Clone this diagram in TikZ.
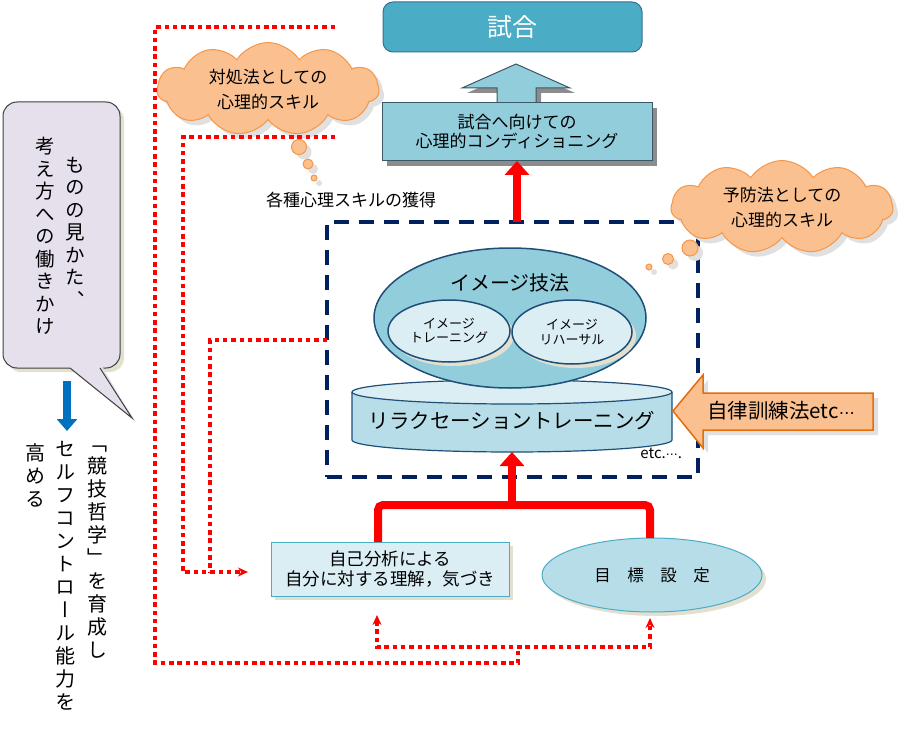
\documentclass[tikz,border=0pt]{standalone}
\usepackage{fontspec}
\setmainfont{Noto Sans CJK JP}
\newfontfamily\vjp[RawFeature=+vert]{Noto Sans CJK JP}
\newfontfamily\dvs{DejaVu Sans}
\usetikzlibrary{shapes.symbols,shapes.geometric,arrows.meta,shadows,calc}
\definecolor{shiaiC}{HTML}{4BACC6}
\definecolor{shiaiB}{HTML}{3A6E95}
\definecolor{condC}{HTML}{92CDDC}
\definecolor{condB}{HTML}{3B5868}
\definecolor{paleC}{HTML}{DAEEF3}
\definecolor{midC}{HTML}{B7DEE8}
\definecolor{darkB}{HTML}{1F4E79}
\definecolor{navyC}{HTML}{002060}
\definecolor{orF}{HTML}{FAC090}
\definecolor{orB}{HTML}{F79646}
\definecolor{orB2}{HTML}{E46C0A}
\definecolor{lavC}{HTML}{E5E0EC}
\definecolor{beigeC}{HTML}{E3E0CF}
\definecolor{blueA}{HTML}{0070C0}
\begin{document}
\begin{tikzpicture}[x=1pt,y=-1pt,
  every node/.style={inner sep=0pt, outer sep=0pt},
  grayshadow/.style={drop shadow={fill=black!45, opacity=1, shadow xshift=5pt, shadow yshift=-5pt}},
  beigeshadow/.style={drop shadow={fill=beigeC, opacity=1, shadow xshift=4pt, shadow yshift=-4pt}},
  cloudshadow/.style={drop shadow={fill=black!12, opacity=1, shadow xshift=5pt, shadow yshift=-5pt}},
  shiaibox/.style={rectangle, rounded corners=10pt, fill=shiaiC, draw=shiaiB, line width=1pt,
     minimum width=259pt, minimum height=50pt, text=white, font=\fontsize{25}{28}\selectfont},
  condbox/.style={rectangle, fill=condC, draw=condB, line width=1pt, grayshadow,
     minimum width=270pt, minimum height=58pt, align=center, font=\fontsize{17}{19}\selectfont},
  cloudnode/.style={cloud, cloud puffs=11, cloud puff arc=115, aspect=2.4, fill=orF, draw=orB,
     line width=1pt, cloudshadow, minimum width=222pt, minimum height=92pt, align=center,
     font=\fontsize{17}{25}\selectfont},
  bubble/.style={circle, fill=orF, draw=orB, line width=1pt, cloudshadow},
  dbox/.style={rectangle, draw=navyC, line width=3.5pt, dash pattern=on 15pt off 10pt,
     minimum width=371pt, minimum height=255pt},
  bigell/.style={ellipse, fill=condC, draw=darkB, line width=1.5pt, minimum width=272pt, minimum height=140pt},
  inell/.style={ellipse, fill=paleC, draw=darkB, line width=1.5pt, beigeshadow, align=center,
     font=\fontsize{13}{14.5}\selectfont},
  jibunbox/.style={rectangle, fill=paleC, draw=shiaiC, line width=1pt, beigeshadow,
     minimum width=238pt, minimum height=54pt, align=center, font=\fontsize{17.5}{20}\selectfont},
  goalell/.style={ellipse, fill=midC, draw=shiaiC, line width=1pt, beigeshadow,
     minimum width=220pt, minimum height=74pt, font=\fontsize{16.5}{18}\selectfont},
  callbox/.style={rectangle, rounded corners=14pt, fill=lavC, draw=black!75, line width=1pt,
     beigeshadow, minimum width=117pt, minimum height=266pt},
  vcol/.style={align=center, font=\vjp\fontsize{19.5}{22.5}\selectfont},
  vcolb/.style={align=center, font=\vjp\fontsize{20}{23}\selectfont},
  bigred/.style={draw=red, line width=8pt, -{Triangle[width=24pt,length=14pt]}},
  redline/.style={draw=red, line width=8pt, rounded corners=5pt},
  reddot/.style={draw=red, line width=4.5pt, dash pattern=on 4.5pt off 3.8pt},
  dottip/.style={-{Stealth[length=10pt,width=9pt]}},
]
\useasboundingbox (0,0) rectangle (900,733);

% ---------- left callout ----------
\node[callbox] (call) at (61.5,235) {};
\fill[beigeC] (74,372) -- (136,422) -- (104,372) -- cycle;
\fill[lavC] (68,366) -- (132,418) -- (102,366) -- cycle;
\draw[black!75, line width=1pt] (70,368) -- (132,418) -- (100,368);
\node[vcol] (colA) at (75,232) {も\\の\\の\\見\\か\\た\\、};
\node[vcol] (colB) at (45,236) {考\\え\\方\\へ\\の\\働\\き\\か\\け};

% blue arrow
\coordinate (ba1) at (67,381);
\coordinate (ba2) at (67,431);
\draw[draw=blueA, line width=8pt, -{Triangle[width=20pt,length=12pt]}] (ba1) -- (ba2);

% lower-left vertical text
\node[vcolb, anchor=north] (colC) at (97,446) {「\\競\\技\\哲\\学\\」\\を\\育\\成\\し};
\node[vcolb, anchor=north] (colD) at (65,441) {セ\\ル\\フ\\コ\\ン\\ト\\ロ\\ー\\ル\\能\\力\\を};
\node[vcolb, anchor=north] (colE) at (35,444) {高\\め\\る};

% ---------- top ----------
\node[shiaibox] (match) at (512.5,27) {試合};
\path[fill=black!45] (502,108) -- (502,93) -- (467,93) -- (521,69) -- (575,93) -- (541,93) -- (541,108) -- cycle;
\path[fill=condC, draw=condB, line width=1pt] (497,103) -- (497,88) -- (462,88) -- (516,64) -- (570,88) -- (536,88) -- (536,103);
\node[condbox] (cond) at (517,132) {試合へ向けての\\心理的コンディショニング};

% ---------- dashed frame ----------
\node[dbox] (dbox) at (512.5,349.5) {};

% cylinder
\path[fill=midC, draw=darkB, line width=1.2pt] (352,392) -- (352,440) arc[start angle=180, end angle=0, x radius=160, y radius=12] -- (672,392);
\path[fill=paleC, draw=darkB, line width=1.2pt] (512,392) ellipse[x radius=160, y radius=12];
\node[minimum width=320pt, minimum height=72pt] (cyl) at (512,416) {};
\node[font=\fontsize{20.5}{22}\selectfont] (relax) at (512,421) {リラクセーショントレーニング};

% image ellipse
\node[bigell] (img) at (510,318) {};
\node[font=\fontsize{20}{22}\selectfont] (imgt) at (510,283) {イメージ技法};
\node[inell, minimum width=122pt, minimum height=62pt] (itr) at (449,331) {イメージ\\トレーニング};
\node[inell, minimum width=120pt, minimum height=64pt] (ire) at (572,332) {イメージ\\リハーサル};

\node[font=\fontsize{15}{17}\selectfont, anchor=east] (etc) at (682,453) {etc.{\dvs\fontsize{12}{14}\selectfont ⋯}.};

% red arrow to conditioning
\draw[bigred] (cond.south |- dbox.north) -- (cond.south);

% ---------- clouds ----------
\node[cloudnode] (cloudL) at (268,89) {対処法としての\\心理的スキル};
\node[bubble, minimum size=15pt] (bl1) at (299,147) {};
\node[bubble, minimum size=10pt] (bl2) at (308,164) {};
\node[bubble, minimum size=6pt] (bl3) at (314,178) {};
\node[font=\fontsize{17}{19}\selectfont] (kakushu) at (351,200) {各種心理スキルの獲得};

\node[cloudnode] (cloudR) at (782,207) {予防法としての\\心理的スキル};
\node[bubble, minimum size=16pt] (br1) at (690,248) {};
\node[bubble, minimum size=11pt] (br2) at (668,259) {};
\node[bubble, minimum size=6pt] (br3) at (649,267) {};

% autogenic arrow
\path[fill=orF, draw=orB2, line width=1.5pt, drop shadow={fill=black!12, opacity=1, shadow xshift=5pt, shadow yshift=-5pt}]
  (673,411) -- (703,375) -- (703,393) -- (873,393) -- (873,430) -- (703,430) -- (703,448) -- cycle;
\node[font=\fontsize{20.5}{22}\selectfont] (jiritsu) at (781,411) {自律訓練法etc{\dvs\fontsize{16}{18}\selectfont ⋯}};

% ---------- bottom ----------
\node[jibunbox] (jibun) at (390,569) {自己分析による\\自分に対する理解，気づき};
\node[goalell] (goal) at (652,575) {目\quad 標\quad 設\quad 定};

\coordinate (junc) at (512,505);
\draw[redline] ([xshift=-12pt]jibun.north) |- (junc) -| ([xshift=-2pt]goal.north);
\draw[bigred] (junc) -- (junc |- cyl.south);

% ---------- dotted feedback lines ----------
\coordinate (o1) at (335,27);
\coordinate (i1) at (335,137);
\coordinate (d1) at (dbox.west |- 0,340);
\coordinate (loopj) at (518,647);
\coordinate (aL) at ($(jibun.south)+(-13,19)$);
\coordinate (aR) at ($(goal.south)+(-2,6)$);
\coordinate (jin) at ($(jibun.west)+(-23,3)$);
\draw[reddot] (o1) -| (155,663) -| (loopj);
\draw[reddot, {Stealth[length=10pt,width=9pt]}-{Stealth[length=10pt,width=9pt]}] (aL) |- (loopj) -| (aR);
\draw[reddot, dottip] (i1) -| (183,572) -- (jin);
\draw[reddot] (d1) -| (210,572);
\end{tikzpicture}
\end{document}
